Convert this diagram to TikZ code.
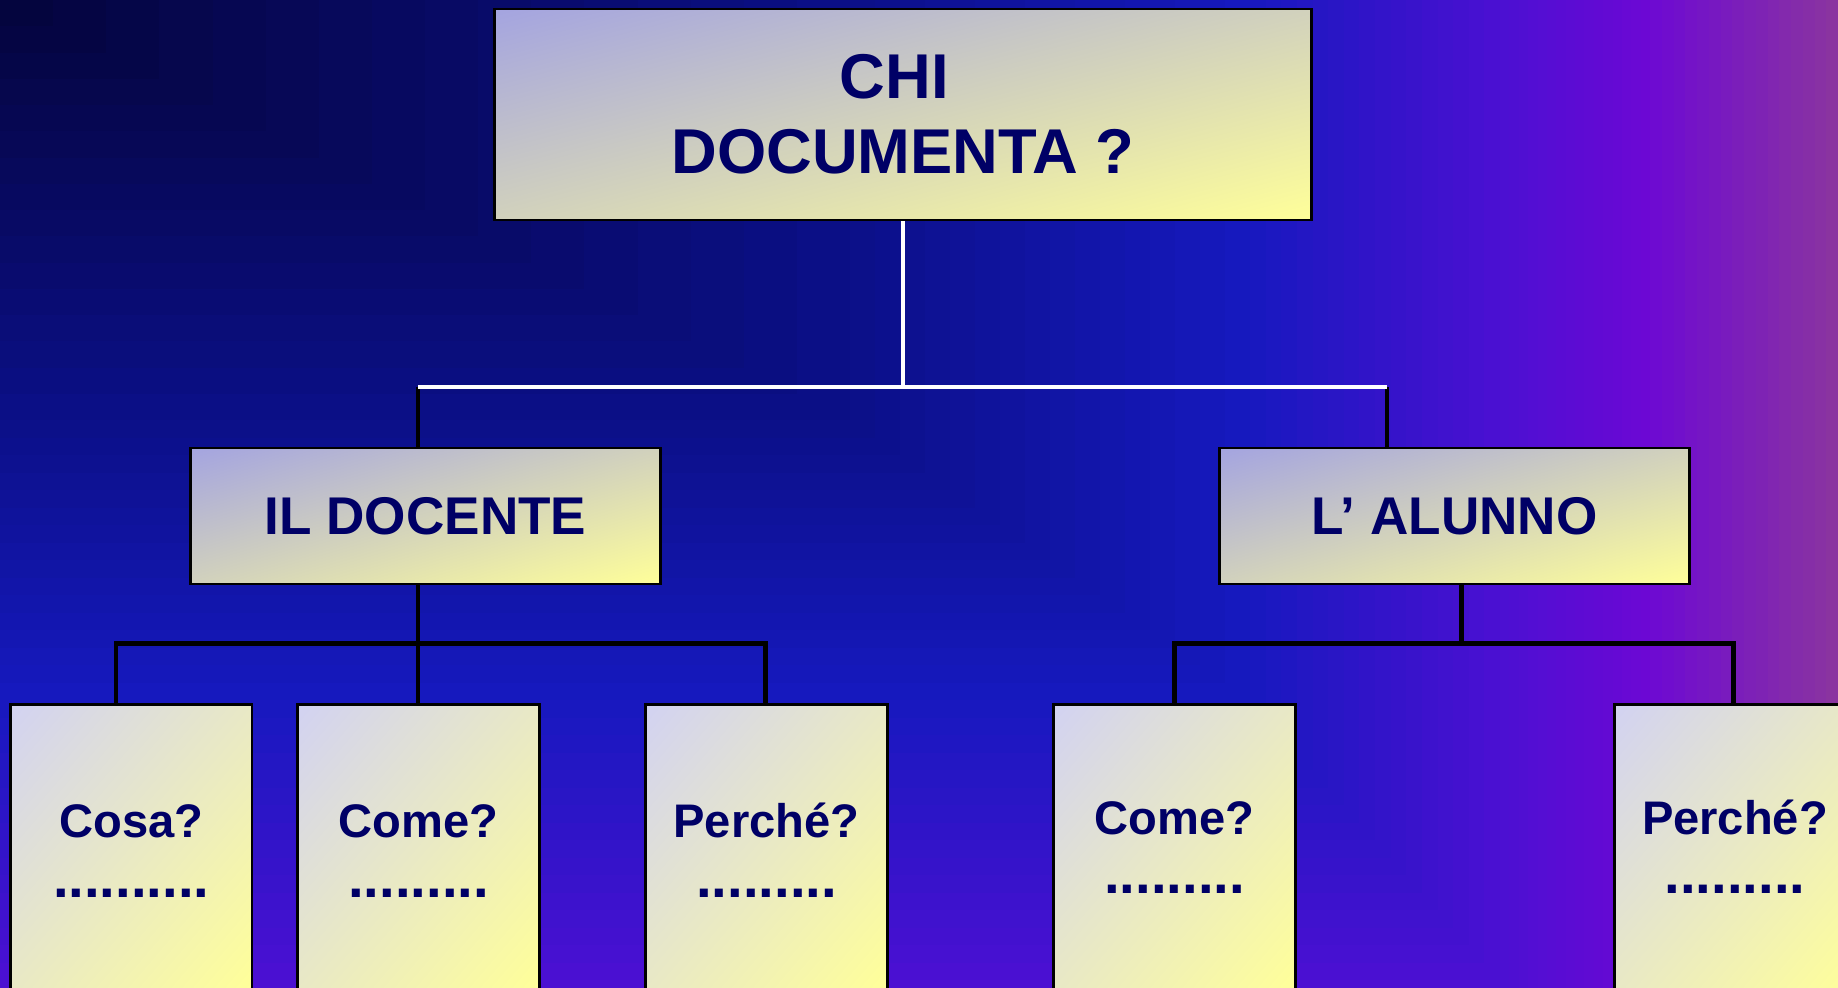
\documentclass[tikz,border=0pt]{standalone}
\usepackage{fontspec}
\setmainfont{Liberation Sans}
\usepackage{tikz}

\definecolor{ink}{HTML}{000066}
\definecolor{boxlav}{HTML}{A4A4E0}
\definecolor{boxmid}{HTML}{CACACA}
\definecolor{boxyel}{HTML}{FFFF99}
\definecolor{leaflav}{HTML}{D2D2F2}
\definecolor{leafmid}{HTML}{E4E4D2}
\definecolor{bgA}{HTML}{04043A}
\definecolor{bgB}{HTML}{0B0F86}
\definecolor{bgC}{HTML}{1619BE}
\definecolor{bgD}{HTML}{4A10D2}
\definecolor{bgE}{HTML}{6C08D4}
\definecolor{bgF}{HTML}{8A34A0}

\newcommand\bgband[6]{%
  \foreach \k in {16,...,1}{%
    \pgfmathtruncatemacro\pc{\k*100/16}%
    \fill[#2!\pc!#1] (0,0) rectangle ({#3+(#5-#3)*\k/16},{#4+(#6-#4)*\k/16});
  }}

\newcommand\panel[9]{%
  \begin{scope}
    \clip (#1,#2) rectangle (#3,#4);
    \shade[transform canvas={shift={(#5,#6)}, rotate=#7},
      top color=#9, middle color=#9mid, bottom color=boxyel] (-6cm,-#8) rectangle (6cm,#8);
  \end{scope}}

\begin{document}
\begin{tikzpicture}[x=0.01cm, y=-0.01cm,
    root/.style={draw=black, line width=0.8pt, text=ink, inner sep=0pt, align=center,
      minimum width=8.16cm, minimum height=2.11cm,
      font=\bfseries\fontsize{18}{21.3}\selectfont},
    who/.style={draw=black, line width=0.8pt, text=ink, inner sep=0pt,
      minimum width=4.69cm, minimum height=1.36cm,
      font=\bfseries\fontsize{15.1}{18}\selectfont},
    leaf/.style={draw=black, line width=0.8pt, inner sep=0pt,
      minimum width=2.415cm, minimum height=3.555cm},
    ask/.style={anchor=base, text=ink, inner sep=0pt, font=\bfseries\fontsize{13.4}{16}\selectfont},
    dots/.style={anchor=base, text=ink, inner sep=0pt, font=\bfseries\fontsize{16}{18}\selectfont},
    wline/.style={white, line width=1.3pt},
    bline/.style={black, line width=1.3pt}]

\useasboundingbox (0,0) rectangle (1838,987);
\clip (0,0) rectangle (1838,987);

\fill[bgF] (0,0) rectangle (1838,987);
\bgband{bgE}{bgF}{1650}{1150}{1838}{1300}
\bgband{bgD}{bgE}{1500}{980}{1650}{1150}
\bgband{bgC}{bgD}{1250}{700}{1500}{980}
\bgband{bgB}{bgC}{850}{420}{1250}{700}
\bgband{bgA}{bgB}{0}{0}{850}{420}

\definecolor{boxlavmid}{named}{boxmid}
\definecolor{leaflavmid}{named}{leafmid}
\panel{495}{9}{1311}{220}{903}{114.5}{14.5}{2.043cm}{boxlav}
\panel{191}{448}{660}{584}{425.5}{516}{16.2}{1.307cm}{boxlav}
\panel{1220}{448}{1689}{584}{1454.5}{516}{16.2}{1.307cm}{boxlav}
\panel{10.5}{704.5}{252}{1060}{131.2}{845.75}{49.5}{1.835cm}{leaflav}
\panel{297.7}{704.5}{539.2}{1060}{418.5}{845.75}{49.5}{1.835cm}{leaflav}
\panel{646}{704.5}{887}{1060}{766.5}{845.75}{49.5}{1.835cm}{leaflav}
\panel{1053.8}{704.5}{1295.3}{1060}{1174.5}{845.75}{49.5}{1.835cm}{leaflav}
\panel{1614}{704.5}{1856}{1060}{1735}{845.75}{49.5}{1.835cm}{leaflav}

\node[root] (chi) at (903,114.5) {CHI\kern0.28em\\DOCUMENTA ?};

\node[who] (doc) at (425.5,516) {IL DOCENTE};
\node[who] (alu) at (1454.5,516) {L’ ALUNNO};

\node[leaf] (cosa) at (131.2,882.25) {};
\node[leaf] (come1) at (418.5,882.25) {};
\node[leaf] (perc1) at (766.5,882.25) {};
\node[leaf] (come2) at (1174.5,882.25) {};
\node[leaf] (perc2) at (1735,882.25) {};

\node[ask] (cosaq) at (131.2,837) {Cosa?};
\node[dots] (cosad) at (131.2,897) {..........};
\node[ask] (come1q) at (418.5,837) {Come?};
\node[dots] (come1d) at (418.5,897) {.........};
\node[ask] (perc1q) at (766.5,837) {Perché?};
\node[dots] (perc1d) at (766.5,897) {.........};
\node[ask] (come2q) at (1174.5,834) {Come?};
\node[dots] (come2d) at (1174.5,893) {.........};
\node[ask] (perc2q) at (1735,834) {Perché?};
\node[dots] (perc2d) at (1735,893) {.........};

\coordinate (jt) at (903,387);
\coordinate (tl) at (418,387);
\coordinate (tr) at (1387,387);
\coordinate (dj) at (418,643.5);
\coordinate (dl) at (116,643.5);
\coordinate (dr) at (765.5,643.5);
\coordinate (aj) at (1461.5,643.5);
\coordinate (al) at (1174.5,643.5);
\coordinate (ar) at (1733.5,643.5);

\draw[bline] (tl) -- (tl |- doc.north);
\draw[bline] (tr) -- (tr |- alu.north);
\draw[wline] (chi.south) -- (jt);
\draw[wline] (tl) -- (tr);

\draw[bline] (dj |- doc.south) -- (dj |- come1.north);
\draw[bline] (dl |- cosa.north) -- (dl) -- (dr) -- (dr |- perc1.north);

\draw[bline] (aj |- alu.south) -- (aj);
\draw[bline] (al |- come2.north) -- (al) -- (ar) -- (ar |- perc2.north);
\end{tikzpicture}
\end{document}
